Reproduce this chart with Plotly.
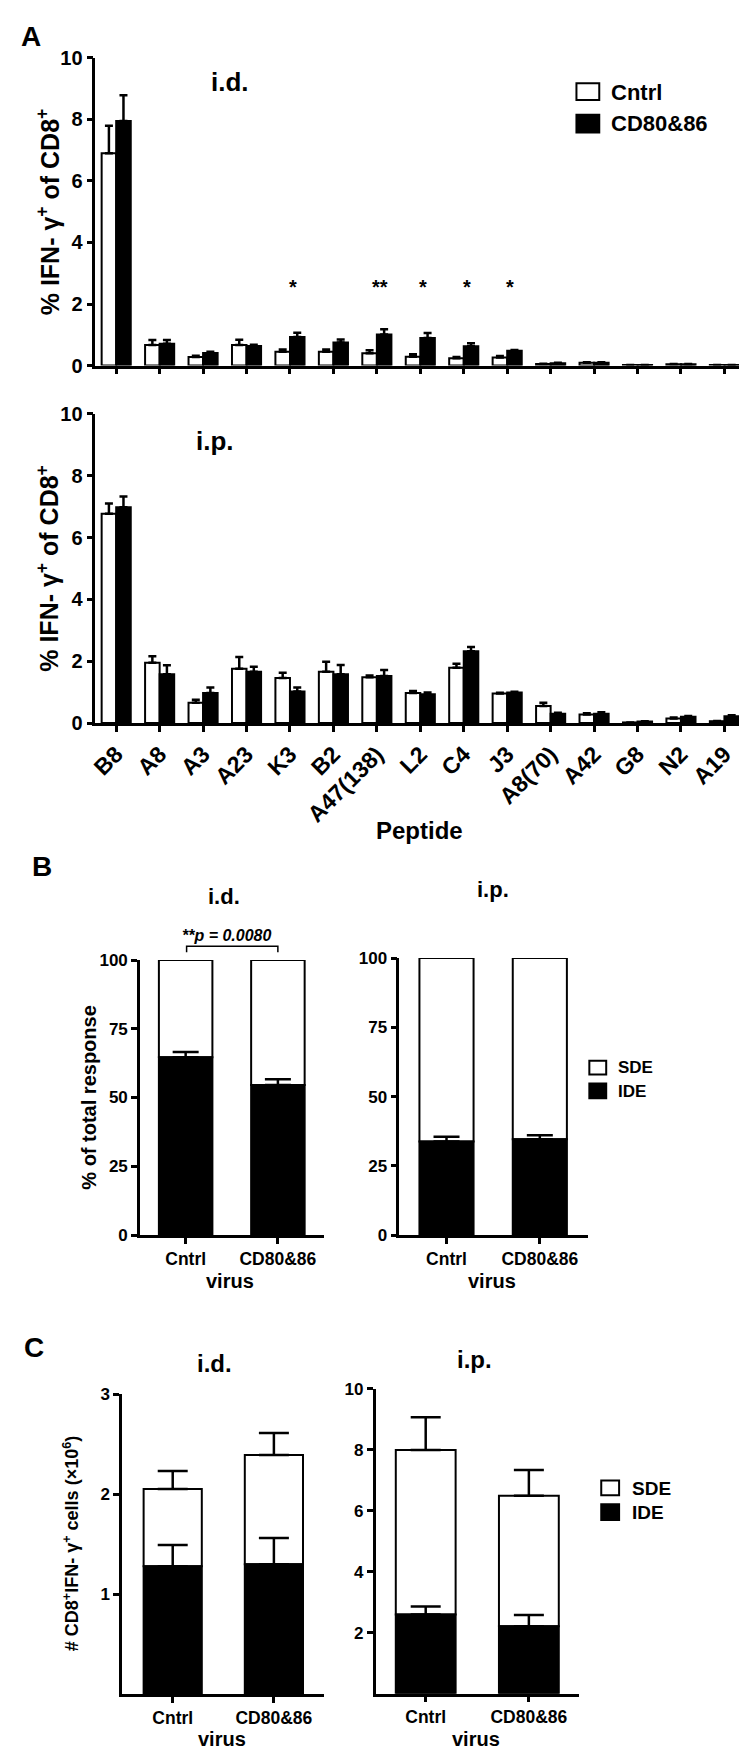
import plotly.graph_objects as go

# ---------------- data ----------------
peptides = ["B8", "A8", "A3", "A23", "K3", "B2", "A47(138)", "L2", "C4", "J3",
            "A8(70)", "A42", "G8", "N2", "A19"]

id_cntrl = [6.90, 0.67, 0.28, 0.67, 0.45, 0.45, 0.40, 0.29, 0.24, 0.26, 0.05, 0.09, 0.02, 0.04, 0.02]
id_cntrl_err = [0.89, 0.16, 0.04, 0.17, 0.07, 0.07, 0.10, 0.08, 0.04, 0.05, 0.01, 0.02, 0.00, 0.01, 0.00]
id_cd = [7.95, 0.71, 0.41, 0.64, 0.93, 0.75, 1.01, 0.90, 0.63, 0.48, 0.08, 0.09, 0.02, 0.04, 0.02]
id_cd_err = [0.83, 0.12, 0.04, 0.04, 0.14, 0.10, 0.17, 0.16, 0.10, 0.03, 0.01, 0.02, 0.00, 0.01, 0.00]

ip_cntrl = [6.77, 1.95, 0.66, 1.76, 1.46, 1.66, 1.48, 0.97, 1.79, 0.96, 0.55, 0.28, 0.02, 0.15, 0.06]
ip_cntrl_err = [0.33, 0.21, 0.09, 0.38, 0.17, 0.32, 0.06, 0.07, 0.13, 0.02, 0.11, 0.04, 0.00, 0.03, 0.01]
ip_cd = [6.98, 1.58, 0.97, 1.66, 1.02, 1.58, 1.52, 0.93, 2.32, 0.99, 0.30, 0.30, 0.05, 0.20, 0.22]
ip_cd_err = [0.35, 0.29, 0.18, 0.16, 0.13, 0.30, 0.20, 0.06, 0.14, 0.02, 0.03, 0.05, 0.01, 0.03, 0.03]

sig_peptides = ["K3", "A47(138)", "L2", "C4", "J3"]
sig_labels = ["*", "**", "*", "*", "*"]
sig_level = 2.55

groups = ["Cntrl", "CD80&86"]
b_id_ide = [64.7, 54.6]
b_id_ide_err = [1.9, 2.1]
b_id_sde = [35.3, 45.4]
b_ip_ide = [33.8, 34.6]
b_ip_ide_err = [1.7, 1.4]
b_ip_sde = [66.2, 65.4]

c_id_ide = [1.28, 1.30]
c_id_ide_err = [0.21, 0.26]
c_id_sde = [0.77, 1.09]
c_id_sde_err = [0.18, 0.22]
c_ip_ide = [2.60, 2.21]
c_ip_ide_err = [0.26, 0.37]
c_ip_sde = [5.39, 4.28]
c_ip_sde_err = [1.07, 0.84]

legend_a = ["Cntrl", "CD80&86"]
legend_bc = ["SDE", "IDE"]

# ---------------- layout helpers ----------------
W, H = 747, 1754
FONT = "Liberation Sans, Arial, sans-serif"


def fx(px):
    return px / W


def fy(py):
    return 1 - py / H


def xdom(a, b):
    return [a / W, b / W]


def ydom(top, bottom):
    return [1 - bottom / H, 1 - top / H]


def zeros(n):
    return [0] * n


fig = go.Figure()

white = dict(color="white", line=dict(color="black", width=2))
black = dict(color="black", line=dict(color="black", width=2))

# ---------------- panel A ----------------
for ax, c, ce, d, de in [("", id_cntrl, id_cntrl_err, id_cd, id_cd_err),
                         ("2", ip_cntrl, ip_cntrl_err, ip_cd, ip_cd_err)]:
    fig.add_trace(go.Bar(
        x=peptides, y=c, name=legend_a[0], marker=white, xaxis="x" + ax, yaxis="y" + ax,
        error_y=dict(type="data", array=ce, arrayminus=zeros(len(ce)), symmetric=False,
                     color="black", thickness=2.5, width=4),
        showlegend=False))
    fig.add_trace(go.Bar(
        x=peptides, y=d, name=legend_a[1], marker=black, xaxis="x" + ax, yaxis="y" + ax,
        error_y=dict(type="data", array=de, arrayminus=zeros(len(de)), symmetric=False,
                     color="black", thickness=2.5, width=4),
        showlegend=False))


# ---------------- panels B / C (stacked) ----------------
def stacked(ax, ide, ide_err, sde, sde_err, bw, cap):
    sde_error = None
    if sde_err is not None:
        sde_error = dict(type="data", array=sde_err, arrayminus=zeros(len(sde_err)),
                         symmetric=False, color="black", thickness=2.5, width=cap)
    fig.add_trace(go.Bar(
        x=groups, y=sde, base=ide, width=bw, offset=-bw / 2, marker=white, name=legend_bc[0],
        xaxis="x" + ax, yaxis="y" + ax, error_y=sde_error, showlegend=False))
    fig.add_trace(go.Bar(
        x=groups, y=ide, width=bw, offset=-bw / 2, marker=black, name=legend_bc[1],
        xaxis="x" + ax, yaxis="y" + ax, showlegend=False))
    fig.add_trace(go.Scatter(
        x=groups, y=ide, mode="markers", marker=dict(size=1, opacity=0),
        xaxis="x" + ax, yaxis="y" + ax, showlegend=False, hoverinfo="skip",
        error_y=dict(type="data", array=ide_err, arrayminus=zeros(len(ide_err)),
                     symmetric=False, color="black", thickness=2.5, width=cap)))


stacked("3", b_id_ide, b_id_ide_err, b_id_sde, None, 0.58, 13)
stacked("4", b_ip_ide, b_ip_ide_err, b_ip_sde, None, 0.58, 13)
stacked("5", c_id_ide, c_id_ide_err, c_id_sde, c_id_sde_err, 0.575, 15)
stacked("6", c_ip_ide, c_ip_ide_err, c_ip_sde, c_ip_sde_err, 0.58, 15)


# ---------------- axes ----------------
def axstyle(fs, **kw):
    d = dict(showline=True, linecolor="black", linewidth=2.5, ticks="outside",
             ticklen=6, tickwidth=2.5, tickcolor="black", showgrid=False,
             zeroline=False, fixedrange=True,
             tickfont=dict(family=FONT, size=fs, color="black", weight="bold"))
    d.update(kw)
    return d


layout = dict(
    width=W, height=H, margin=dict(l=0, r=0, t=0, b=0),
    paper_bgcolor="white", plot_bgcolor="white",
    barmode="group", bargap=0.33, bargroupgap=0.0, showlegend=False,
    font=dict(family=FONT, color="black"),
)

# A top
layout["xaxis"] = axstyle(19, domain=xdom(82, 742), anchor="y", type="category",
                          range=[-0.48, 14.59], showticklabels=False)
layout["yaxis"] = axstyle(20, domain=ydom(39.3, 351), anchor="x", range=[0, 10],
                          tickvals=[0, 2, 4, 6, 8, 10])
# A bottom
layout["xaxis2"] = axstyle(23, domain=xdom(82, 742), anchor="y2", type="category",
                           range=[-0.48, 14.59], tickangle=-45)
layout["yaxis2"] = axstyle(20, domain=ydom(400, 713), anchor="x2", range=[0, 10],
                           tickvals=[0, 2, 4, 6, 8, 10])
# B i.d.
layout["xaxis3"] = axstyle(17.5, domain=xdom(127, 313), anchor="y3", type="category",
                           range=[-0.495, 1.505])
layout["yaxis3"] = axstyle(17, domain=ydom(953, 1231.5), anchor="x3", range=[0, 100],
                           tickvals=[0, 25, 50, 75, 100])
# B i.p.
layout["xaxis4"] = axstyle(17.5, domain=xdom(388.5, 579), anchor="y4", type="category",
                           range=[-0.505, 1.52])
layout["yaxis4"] = axstyle(17, domain=ydom(951, 1231.5), anchor="x4", range=[0, 100],
                           tickvals=[0, 25, 50, 75, 100])
# C i.d.
layout["xaxis5"] = axstyle(17.5, domain=xdom(109, 313), anchor="y5", type="category",
                           range=[-0.5, 1.5])
layout["yaxis5"] = axstyle(17, domain=ydom(1392.5, 1696.5), anchor="x5", range=[0, 3],
                           tickvals=[1, 2, 3])
# C i.p.
layout["xaxis6"] = axstyle(17.5, domain=xdom(364.6, 570), anchor="y6", type="category",
                           range=[-0.485, 1.49])
layout["yaxis6"] = axstyle(17, domain=ydom(1387, 1696), anchor="x6", range=[0, 10],
                           tickvals=[2, 4, 6, 8, 10])

fig.update_layout(**layout)

# ---------------- annotations ----------------
ann = []


def text(x, y, t, size, angle=0, italic=False, xanchor="center"):
    ann.append(dict(x=fx(x), y=fy(y), xref="paper", yref="paper", text=t,
                    showarrow=False, textangle=angle, xanchor=xanchor, yanchor="middle",
                    font=dict(family=FONT, size=size, color="black", weight="bold",
                              style="italic" if italic else "normal")))


text(17, 18, "A", 28)
text(218, 64, "i.d.", 26)
text(203, 427, "i.p.", 26)
ytitle_a = "% IFN- γ<sup>+</sup> of CD8<sup>+</sup>"
text(34, 195, ytitle_a, 25, angle=-90)
text(34, 556, ytitle_a, 25, angle=-90)
text(409, 822, "Peptide", 24)

text(28, 858, "B", 28)
text(212, 889, "i.d.", 22)
text(483, 882, "i.p.", 22)
text(215, 928, "**p = 0.0080", 16, italic=True)
text(76, 1092, "% of total response", 20, angle=-90)
text(218, 1278, "virus", 20)
text(482, 1278, "virus", 20)

text(20, 1345, "C", 28)
text(202, 1362, "i.d.", 24)
text(464, 1358, "i.p.", 24)
text(58, 1544, "# CD8<sup>+</sup>IFN- γ<sup>+</sup> cells (×10<sup>6</sup>)", 18, angle=-90)
text(210, 1742, "virus", 20)
text(466, 1742, "virus", 20)

for p, s in zip(sig_peptides, sig_labels):
    ann.append(dict(x=p, y=sig_level, xref="x", yref="y", text=s, showarrow=False,
                    xshift=3, font=dict(family=FONT, size=20, color="black", weight="bold")))

# legend text
text(600, 74, legend_a[0], 22, xanchor="left")
text(600, 106, legend_a[1], 22, xanchor="left")
text(607, 1062, legend_bc[0], 17, xanchor="left")
text(607, 1086, legend_bc[1], 17, xanchor="left")
text(621, 1488, legend_bc[0], 19, xanchor="left")
text(621, 1512, legend_bc[1], 19, xanchor="left")

fig.update_layout(annotations=ann)


def box(x0, y0, x1, y1, fill):
    fig.add_shape(type="rect", xref="paper", yref="paper",
                  x0=fx(x0), x1=fx(x1), y0=fy(y1), y1=fy(y0),
                  fillcolor=fill, line=dict(color="black", width=2))


# legend swatches
box(567, 65, 590, 82, "white")
box(567, 97, 590, 115, "black")
box(580, 1055, 597, 1069, "white")
box(580, 1078, 597, 1093, "black")
box(592, 1480, 610, 1495, "white")
box(592, 1504, 610, 1520, "black")

# significance bracket (panel B i.d.)
fig.add_shape(type="path", xref="paper", yref="paper",
              path=f"M {fx(174)},{fy(945)} L {fx(174)},{fy(939)} L {fx(266)},{fy(939)} L {fx(266)},{fy(945)}",
              line=dict(color="black", width=1.5))

fig.write_html("out.html")
